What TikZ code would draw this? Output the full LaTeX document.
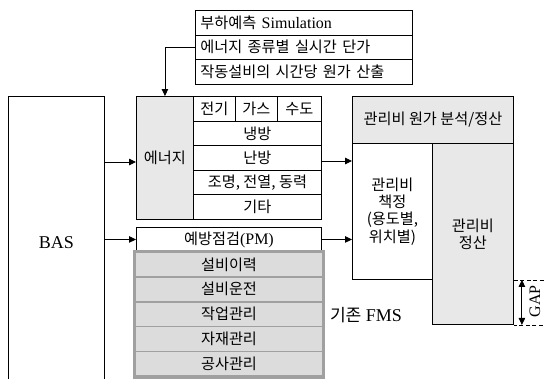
\documentclass[tikz,border=0pt]{standalone}
\usepackage{fontspec}
\setmainfont{Liberation Serif}
\newfontfamily\kr{Noto Sans CJK KR}[Scale=0.95]
\usetikzlibrary{arrows.meta}
\definecolor{lgray}{HTML}{E8E8E8}
\definecolor{fmsfill}{HTML}{DCDCDC}
\definecolor{fmsline}{HTML}{A0A0A0}
\begin{document}
\begin{tikzpicture}[x=1pt,y=-1pt,
  font=\fontsize{16}{17.3}\selectfont,
  box/.style={draw=black,line width=0.9pt,anchor=north west,inner sep=0pt,align=center},
  leftbox/.style={box,align=left,inner xsep=5pt,text width=207pt,minimum height=24.5pt},
  fmsrow/.style={draw=fmsline,line width=1.6pt,fill=fmsfill,anchor=north west,inner sep=0pt,minimum width=187pt,minimum height=24.8pt},
  arr/.style={line width=0.9pt,-{Triangle[length=7pt,width=6.5pt]}},
  darr/.style={line width=0.9pt,{Triangle[length=7pt,width=6.5pt]}-{Triangle[length=7pt,width=6.5pt]}},
  biglatin/.style={font=\fontsize{18}{20}\selectfont}
]
\useasboundingbox (0,0) rectangle (545,378);

% BAS
\begin{scope}
\clip (0,0) rectangle (545,378);
\node[box,biglatin,minimum width=96pt,minimum height=292pt] (bas) at (8,96) {BAS};
\end{scope}

% top info box
\node[leftbox] (t1) at (195,10) {{\kr 부하예측} Simulation};
\node[leftbox] (t2) at (195,34.5) {\kr 에너지 종류별 실시간 단가};
\node[leftbox] (t3) at (195,59) {\kr 작동설비의 시간당 원가 산출};

% energy block
\node[box,fill=lgray,minimum width=57pt,minimum height=123pt] (en) at (136,96) {\kr 에너지};
\node[box,minimum width=42pt,minimum height=24.6pt] (elec) at (193,96) {\kr 전기};
\node[box,minimum width=42pt,minimum height=24.6pt] (gas) at (235,96) {\kr 가스};
\node[box,minimum width=44pt,minimum height=24.6pt] (water) at (277,96) {\kr 수도};
\node[box,minimum width=128pt,minimum height=24.6pt] (cool) at (193,120.6) {\kr 냉방};
\node[box,minimum width=128pt,minimum height=24.6pt] (heat) at (193,145.2) {\kr 난방};
\node[box,minimum width=128pt,minimum height=24.6pt] (light) at (193,169.8) {\kr 조명, 전열, 동력};
\node[box,minimum width=128pt,minimum height=24.6pt] (etc) at (193,194.4) {\kr 기타};

% PM
\node[box,minimum width=185pt,minimum height=24pt] (pm) at (136,227) {{\kr 예방점검}(PM)};

% FMS
\node[fmsrow] (f1) at (134.7,251.3) {\kr 설비이력};
\node[fmsrow] (f2) at (134.7,276.1) {\kr 설비운전};
\node[fmsrow] (f3) at (134.7,300.9) {\kr 작업관리};
\node[fmsrow] (f4) at (134.7,325.7) {\kr 자재관리};
\node[fmsrow] (f5) at (134.7,350.5) {\kr 공사관리};
\draw[fmsline,line width=3.4pt] (f1.north west) rectangle (f5.south east);
\node[biglatin] (fmslabel) at (366,315) {{\kr 기존} FMS};

% management cost
\node[box,fill=lgray,minimum width=161pt,minimum height=47pt] (head) at (352,96) {\kr 관리비 원가 분석/정산};
\node[box,minimum width=80pt,minimum height=136pt] (calc) at (352,143) {\kr 관리비\\\kr 책정\\\kr (용도별,\\\kr 위치별)};
\node[box,fill=lgray,minimum width=81pt,minimum height=181pt] (settle) at (432,143) {\kr 관리비\\\kr 정산};

% GAP
\draw[line width=0.8pt,dash pattern=on 4pt off 2.5pt] (calc.south east -| settle.east) -- ++(31,0) -- ++(0,45) -- (settle.south east);
\draw[darr] (calc.south east -| settle.east) ++(8,0) coordinate (ga) -- (ga |- settle.south east);
\node[rotate=90] (gap) at (535,301.5) {GAP};

% connectors
\draw[arr] (t2.west) -| (en.north);
\draw[arr] (bas.east |- 0,162) -- (en.west |- 0,162);
\draw[arr] (bas.east |- pm.west) -- (pm.west);
\draw[arr] (heat.east |- 0,161) -- (calc.west |- 0,161);
\draw[arr] (pm.east) -- (calc.west |- pm.east);
\end{tikzpicture}
\end{document}
